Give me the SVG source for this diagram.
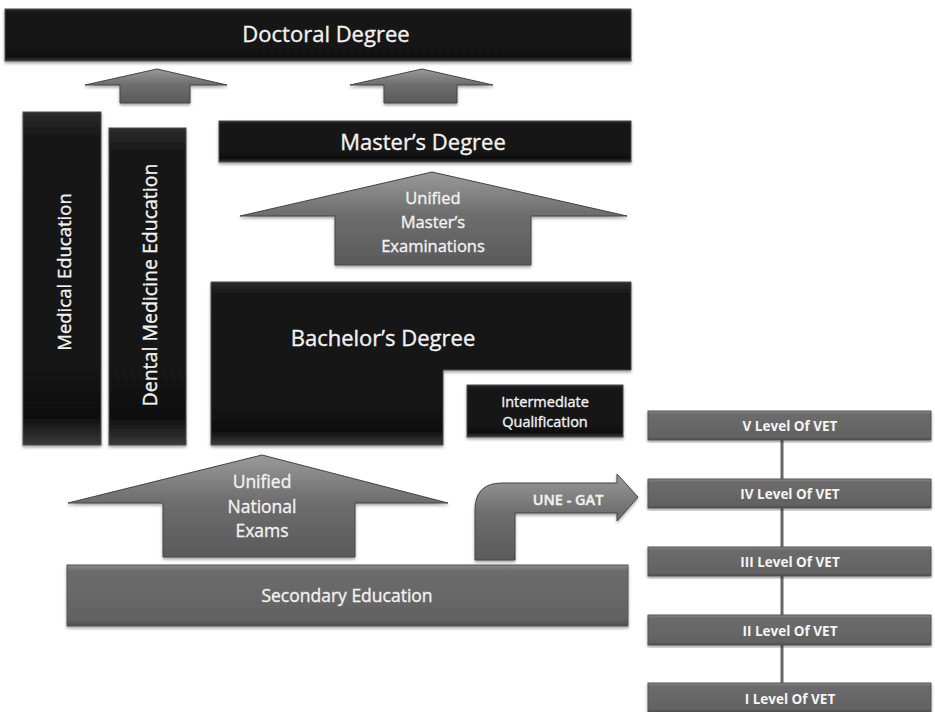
<svg xmlns="http://www.w3.org/2000/svg" width="935" height="712" viewBox="0 0 935 712">
<defs>
<linearGradient id="gBlack" x1="0" y1="0" x2="0" y2="1">
<stop offset="0" stop-color="#2c2c2c"/>
<stop offset="0.08" stop-color="#161616"/>
<stop offset="0.92" stop-color="#111111"/>
<stop offset="1" stop-color="#3a3a3a"/>
</linearGradient>
<linearGradient id="gArrow" x1="0" y1="0" x2="0" y2="1">
<stop offset="0" stop-color="#9a9a9a"/>
<stop offset="0.45" stop-color="#6e6e6e"/>
<stop offset="1" stop-color="#5a5a5a"/>
</linearGradient>
<linearGradient id="gGray" x1="0" y1="0" x2="0" y2="1">
<stop offset="0" stop-color="#8a8a8a"/>
<stop offset="0.1" stop-color="#6c6c6c"/>
<stop offset="0.9" stop-color="#626262"/>
<stop offset="1" stop-color="#4a4a4a"/>
</linearGradient>
<filter id="sh" x="-5%" y="-5%" width="110%" height="115%">
<feDropShadow dx="0" dy="2" stdDeviation="1.5" flood-color="#000" flood-opacity="0.35"/>
</filter>
</defs>
<style>
.blk{fill:url(#gBlack);stroke:#4a4a4a;stroke-width:1;filter:url(#sh)}
.arr{fill:url(#gArrow);stroke:#444;stroke-width:1;filter:url(#sh)}
.gry{fill:url(#gGray);stroke:#555;stroke-width:1;filter:url(#sh)}
.t{font-family:"Open Sans","Liberation Sans",sans-serif;fill:#f2f2f2;stroke:#f2f2f2;stroke-width:0.35;text-anchor:middle;dominant-baseline:central}
.vet{font-family:"Open Sans","Liberation Sans",sans-serif;fill:#f5f5f5;text-anchor:middle;dominant-baseline:central;font-weight:bold;font-size:13.5px}
.ln{stroke:#666;stroke-width:3;fill:none}
</style>
<rect width="935" height="712" fill="#ffffff"/>
<g id="connectors">
<path class="arr" d="M157,69 L227,85 L190,85 L190,103 L120,103 L120,85 L85,85 Z"/>
<path class="arr" d="M422,69 L493,85 L457,85 L457,103 L384,103 L384,85 L350,85 Z"/>
<line class="ln" x1="782" y1="440" x2="782" y2="479"/>
<line class="ln" x1="782" y1="508" x2="782" y2="547"/>
<line class="ln" x1="782" y1="576" x2="782" y2="615"/>
<line class="ln" x1="782" y1="645" x2="782" y2="683"/>
</g>
<g id="doctoral">
<rect class="blk" x="5" y="9" width="626" height="52"/>
<text class="t" x="326" y="33" font-size="22">Doctoral Degree</text>
</g>
<g id="medical">
<rect class="blk" x="23" y="112" width="78" height="333"/>
<text class="t" font-size="18.5" transform="translate(63,272) rotate(-90)">Medical Education</text>
</g>
<g id="dental">
<rect class="blk" x="109" y="128" width="77" height="317"/>
<text class="t" font-size="19.5" transform="translate(149,285) rotate(-90)">Dental Medicine Education</text>
</g>
<g id="masters">
<rect class="blk" x="219" y="121" width="412" height="41"/>
<text class="t" x="423" y="141" font-size="22">Master’s Degree</text>
</g>
<g id="unified-masters-exams">
<path class="arr" d="M432,172 L627,216 L531,216 L531,265 L335,265 L335,216 L240,216 Z"/>
<text class="t" x="433" y="197" font-size="16.5">Unified</text>
<text class="t" x="433" y="221" font-size="16.5">Master’s</text>
<text class="t" x="433" y="245" font-size="16.5">Examinations</text>
</g>
<g id="bachelors">
<path class="blk" d="M211,282 L631,282 L631,370 L443,370 L443,445 L211,445 Z"/>
<text class="t" x="383" y="337" font-size="22">Bachelor’s Degree</text>
</g>
<g id="intermediate">
<rect class="blk" x="467" y="385" width="156" height="52"/>
<text class="t" x="545" y="401" font-size="14.5">Intermediate</text>
<text class="t" x="545" y="421" font-size="14.5">Qualification</text>
</g>
<g id="unified-national-exams">
<path class="arr" d="M262,455 L448,503 L355,503 L355,557 L163,557 L163,503 L68,503 Z"/>
<text class="t" x="262" y="481" font-size="17.5">Unified</text>
<text class="t" x="262" y="506" font-size="17.5">National</text>
<text class="t" x="262" y="530" font-size="17.5">Exams</text>
</g>
<g id="une-gat">
<path class="arr" d="M475,560 L475,510 Q475,483 502,483 L617,483 L617,474 L638,497 L617,521 L617,513 L515,513 L515,560 Z"/>
<text class="t" x="568" y="499" font-size="14.5" font-weight="600">UNE  - GAT</text>
</g>
<g id="secondary">
<rect class="gry" x="67" y="565" width="561" height="61"/>
<text class="t" x="347" y="595" font-size="17.5">Secondary Education</text>
</g>
<g id="vet5">
<rect class="gry" x="648" y="411" width="283" height="29"/>
<text class="vet" x="790" y="426">V Level Of VET</text>
</g>
<g id="vet4">
<rect class="gry" x="648" y="479" width="283" height="29"/>
<text class="vet" x="790" y="494">IV Level Of VET</text>
</g>
<g id="vet3">
<rect class="gry" x="648" y="547" width="283" height="29"/>
<text class="vet" x="790" y="562">III Level Of VET</text>
</g>
<g id="vet2">
<rect class="gry" x="648" y="615" width="283" height="30"/>
<text class="vet" x="790" y="631">II Level Of VET</text>
</g>
<g id="vet1">
<rect class="gry" x="648" y="683" width="283" height="29"/>
<text class="vet" x="790" y="699">I Level Of VET</text>
</g>
</svg>
